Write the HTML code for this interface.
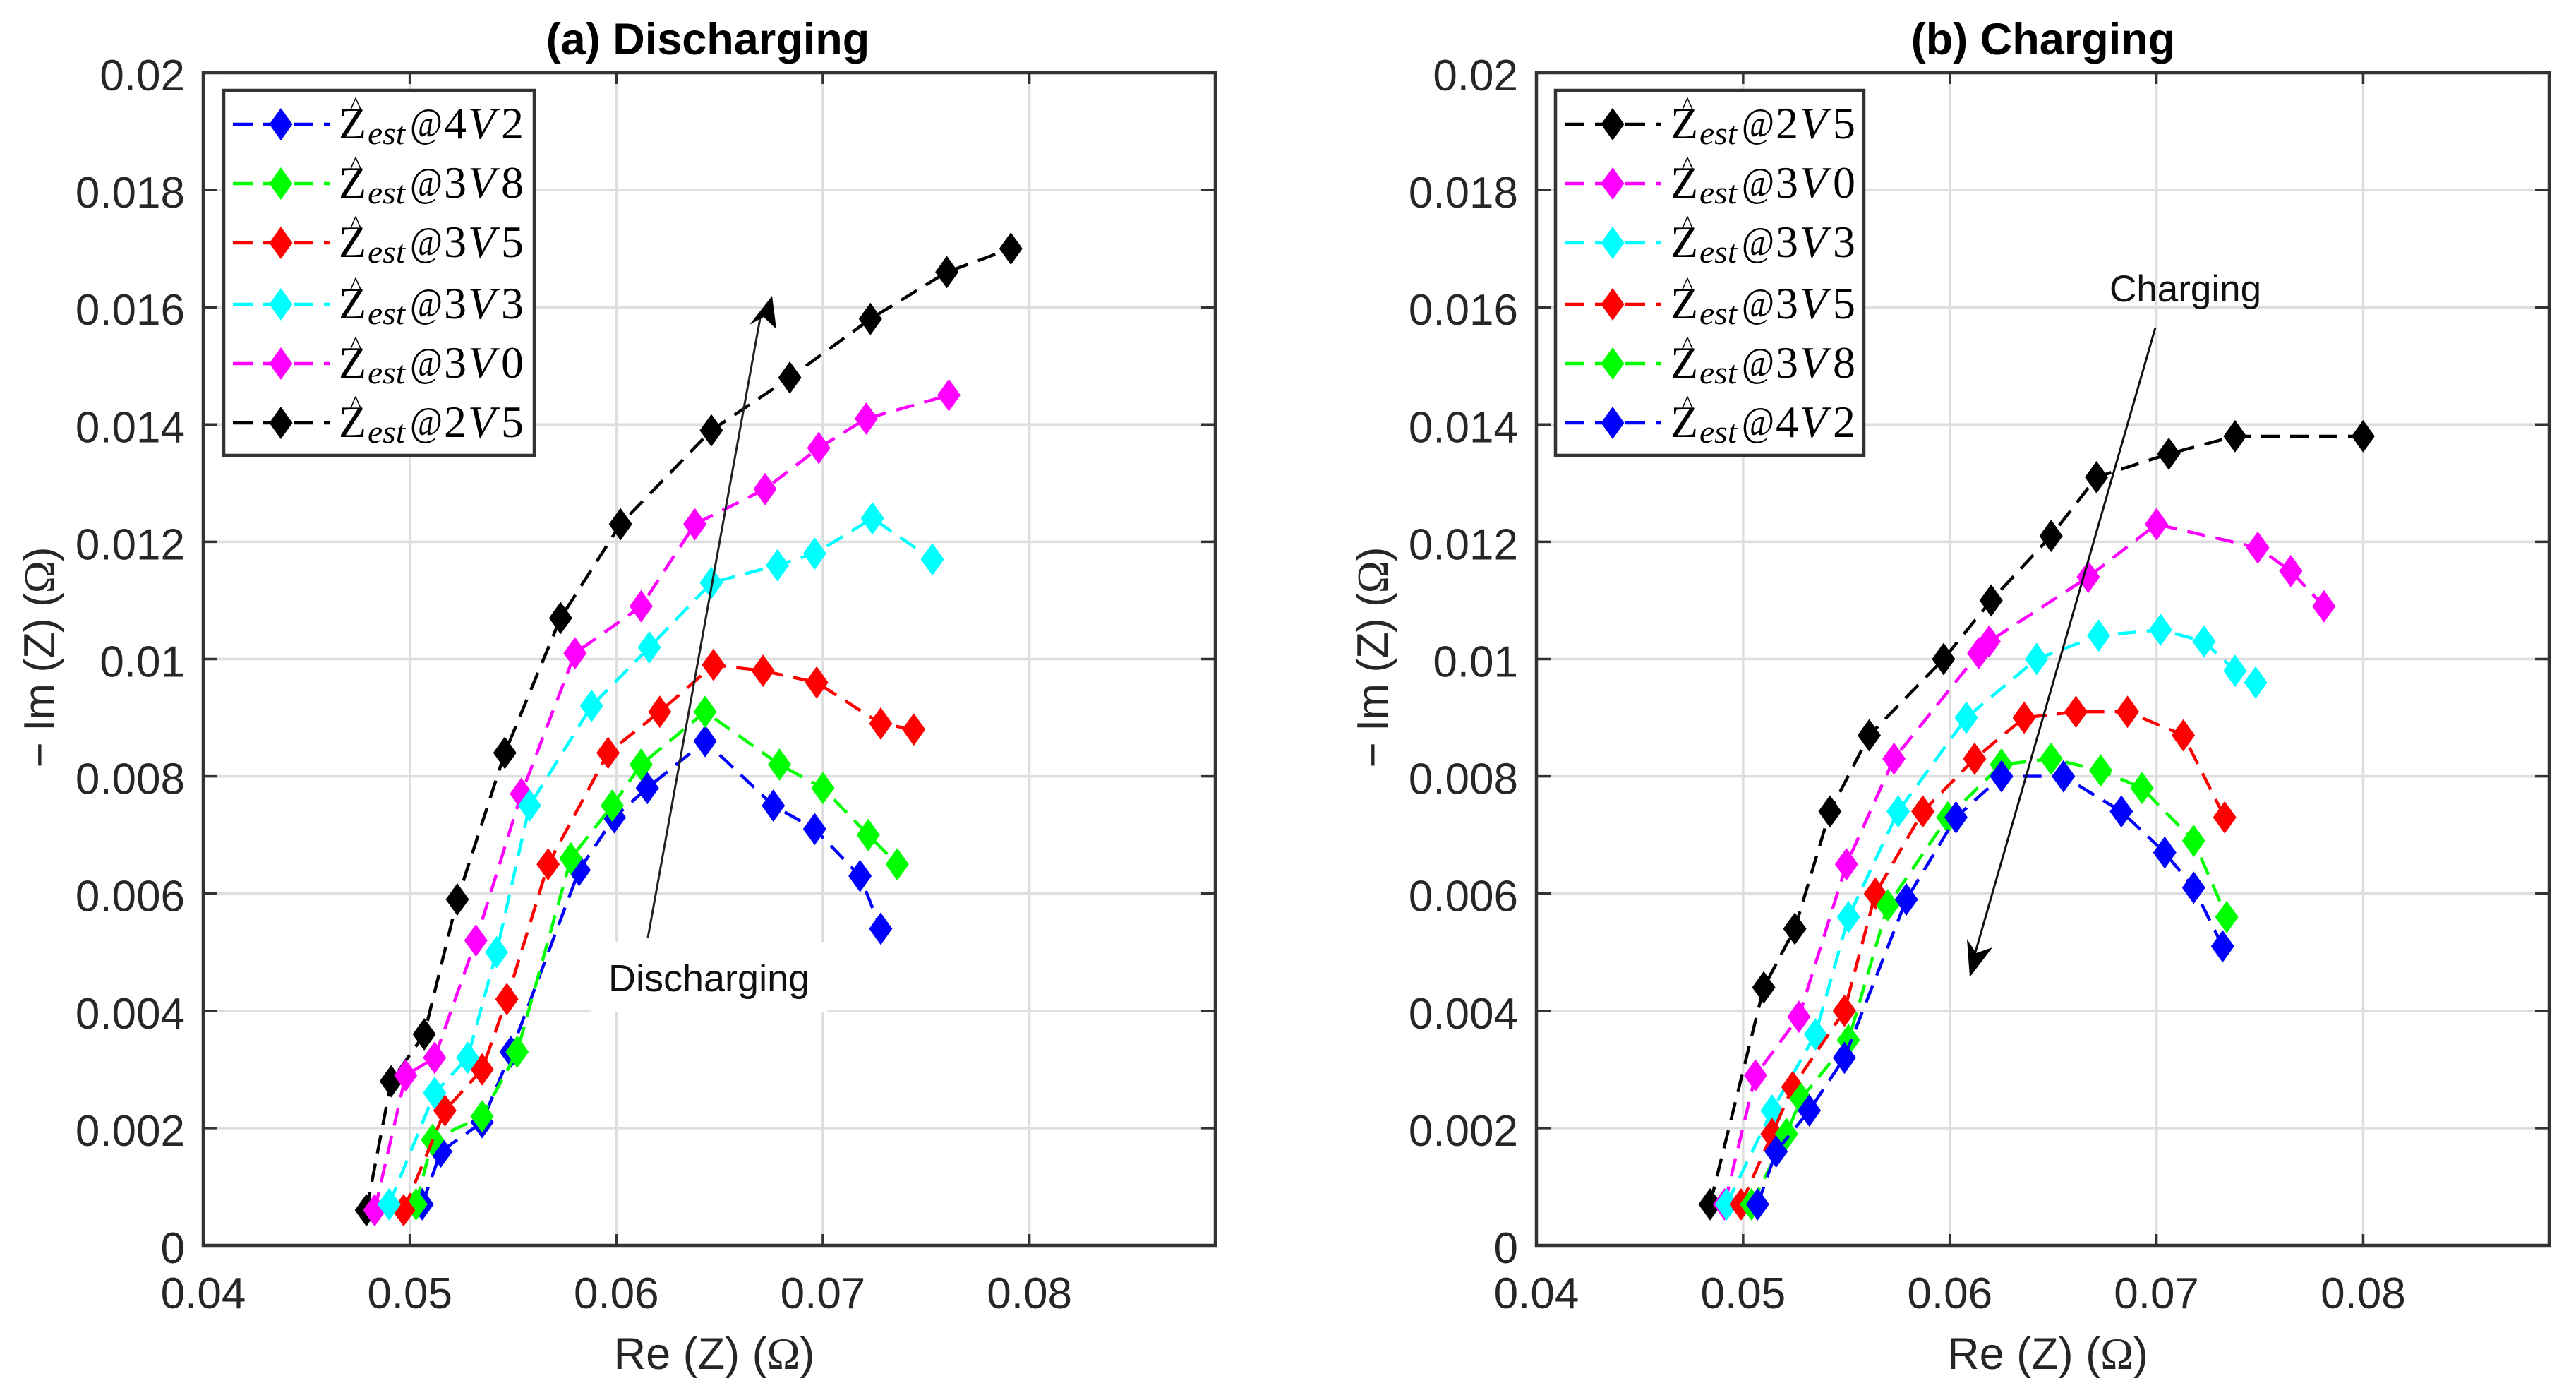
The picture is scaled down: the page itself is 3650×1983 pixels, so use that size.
<!DOCTYPE html>
<html lang="en">
<head>
<meta charset="utf-8">
<title>Impedance Nyquist plots: discharging and charging</title>
<style>
html,body{margin:0;padding:0;background:#fff;width:3650px;height:1983px;overflow:hidden}
svg{display:block}
text{font-family:"Liberation Sans",sans-serif;fill:#262626}
</style>
</head>
<body>
<svg id="figure" xmlns="http://www.w3.org/2000/svg" width="3650" height="1983" viewBox="0 0 3650 1983">
  <rect x="0" y="0" width="3650" height="1983" fill="#fff"/>
  <g id="panel-a"></g>
  <g id="panel-b"></g>
</svg>
<script>
// Axis tick values and labels
const xTicks = [0.04, 0.05, 0.06, 0.07, 0.08];
const xTickLabels = ['0.04', '0.05', '0.06', '0.07', '0.08'];
const yTicks = [0, 0.002, 0.004, 0.006, 0.008, 0.01, 0.012, 0.014, 0.016, 0.018, 0.02];
const yTickLabels = ['0', '0.002', '0.004', '0.006', '0.008', '0.01', '0.012', '0.014', '0.016', '0.018', '0.02'];
const xDomain = [0.04, 0.089];
const yDomain = [0, 0.02];

// (a) Discharging
const disRe4V2 = [0.0506, 0.0515, 0.0535, 0.0549, 0.0582, 0.0599, 0.0615, 0.0643, 0.0676, 0.0696, 0.0718, 0.0728];
const disIm4V2 = [0.0007, 0.0016, 0.0021, 0.0033, 0.0064, 0.0073, 0.0078, 0.0086, 0.0075, 0.0071, 0.0063, 0.0054];
const disRe3V8 = [0.0503, 0.0511, 0.0535, 0.0552, 0.0578, 0.0598, 0.0612, 0.0643, 0.0679, 0.07, 0.0722, 0.0736];
const disIm3V8 = [0.0007, 0.0018, 0.0022, 0.0033, 0.0066, 0.0075, 0.0082, 0.0091, 0.0082, 0.0078, 0.007, 0.0065];
const disRe3V5 = [0.0497, 0.0517, 0.0535, 0.0547, 0.0567, 0.0596, 0.0621, 0.0647, 0.0671, 0.0697, 0.0728, 0.0744];
const disIm3V5 = [0.0006, 0.0023, 0.003, 0.0042, 0.0065, 0.0084, 0.0091, 0.0099, 0.0098, 0.0096, 0.0089, 0.0088];
const disRe3V3 = [0.049, 0.0512, 0.0528, 0.0542, 0.0558, 0.0588, 0.0616, 0.0646, 0.0678, 0.0696, 0.0724, 0.0753];
const disIm3V3 = [0.0007, 0.0026, 0.0032, 0.005, 0.0075, 0.0092, 0.0102, 0.0113, 0.0116, 0.0118, 0.0124, 0.0117];
const disRe3V0 = [0.0483, 0.0498, 0.0512, 0.0532, 0.0554, 0.058, 0.0612, 0.0638, 0.0672, 0.0698, 0.0721, 0.0761];
const disIm3V0 = [0.0006, 0.0029, 0.0032, 0.0052, 0.0077, 0.0101, 0.0109, 0.0123, 0.0129, 0.0136, 0.0141, 0.0145];
const disRe2V5 = [0.0479, 0.0491, 0.0507, 0.0523, 0.0546, 0.0573, 0.0602, 0.0646, 0.0684, 0.0723, 0.076, 0.0791];
const disIm2V5 = [0.0006, 0.0028, 0.0036, 0.0059, 0.0084, 0.0107, 0.0123, 0.0139, 0.0148, 0.0158, 0.0166, 0.017];

// (b) Charging
const chgRe2V5 = [0.0484, 0.051, 0.0525, 0.0542, 0.0561, 0.0597, 0.062, 0.0649, 0.0671, 0.0706, 0.0738, 0.08];
const chgIm2V5 = [0.0007, 0.0044, 0.0054, 0.0074, 0.0087, 0.01, 0.011, 0.0121, 0.0131, 0.0135, 0.0138, 0.0138];
const chgRe3V0 = [0.0491, 0.0506, 0.0527, 0.055, 0.0573, 0.0614, 0.0619, 0.0667, 0.07, 0.0749, 0.0765, 0.0781];
const chgIm3V0 = [0.0007, 0.0029, 0.0039, 0.0065, 0.0083, 0.0101, 0.0103, 0.0114, 0.0123, 0.0119, 0.0115, 0.0109];
const chgRe3V3 = [0.0492, 0.0514, 0.0535, 0.0551, 0.0575, 0.0608, 0.0642, 0.0672, 0.0702, 0.0723, 0.0738, 0.0748];
const chgIm3V3 = [0.0007, 0.0023, 0.0036, 0.0056, 0.0074, 0.009, 0.01, 0.0104, 0.0105, 0.0103, 0.0098, 0.0096];
const chgRe3V5 = [0.0499, 0.0514, 0.0524, 0.0549, 0.0564, 0.0587, 0.0612, 0.0636, 0.0661, 0.0686, 0.0713, 0.0733];
const chgIm3V5 = [0.0007, 0.0019, 0.0027, 0.004, 0.006, 0.0074, 0.0083, 0.009, 0.0091, 0.0091, 0.0087, 0.0073];
const chgRe3V8 = [0.0504, 0.0521, 0.0528, 0.0551, 0.057, 0.0599, 0.0625, 0.0649, 0.0673, 0.0693, 0.0718, 0.0734];
const chgIm3V8 = [0.0007, 0.0019, 0.0025, 0.0035, 0.0058, 0.0073, 0.0082, 0.0083, 0.0081, 0.0078, 0.0069, 0.0056];
const chgRe4V2 = [0.0507, 0.0516, 0.0532, 0.0549, 0.0579, 0.0603, 0.0625, 0.0655, 0.0683, 0.0704, 0.0718, 0.0732];
const chgIm4V2 = [0.0007, 0.0016, 0.0023, 0.0032, 0.0059, 0.0073, 0.008, 0.008, 0.0074, 0.0067, 0.0061, 0.0051];

// Series colours and legend labels (voltage)
const color4V2 = '#0000ff';
const color3V8 = '#00ff00';
const color3V5 = '#ff0000';
const color3V3 = '#00ffff';
const color3V0 = '#ff00ff';
const color2V5 = '#000000';

const discharging = [
  { id: '4V2', re: disRe4V2, im: disIm4V2, color: color4V2 },
  { id: '3V8', re: disRe3V8, im: disIm3V8, color: color3V8 },
  { id: '3V5', re: disRe3V5, im: disIm3V5, color: color3V5 },
  { id: '2V5', re: disRe2V5, im: disIm2V5, color: color2V5 },
  { id: '3V0', re: disRe3V0, im: disIm3V0, color: color3V0 },
  { id: '3V3', re: disRe3V3, im: disIm3V3, color: color3V3 }
];
const dischargingLegend = [
  ['4V2', color4V2], ['3V8', color3V8], ['3V5', color3V5], ['3V3', color3V3], ['3V0', color3V0], ['2V5', color2V5]
];
const charging = [
  { id: '2V5', re: chgRe2V5, im: chgIm2V5, color: color2V5 },
  { id: '3V0', re: chgRe3V0, im: chgIm3V0, color: color3V0 },
  { id: '3V3', re: chgRe3V3, im: chgIm3V3, color: color3V3 },
  { id: '3V5', re: chgRe3V5, im: chgIm3V5, color: color3V5 },
  { id: '3V8', re: chgRe3V8, im: chgIm3V8, color: color3V8 },
  { id: '4V2', re: chgRe4V2, im: chgIm4V2, color: color4V2 }
];
const chargingLegend = [
  ['2V5', color2V5], ['3V0', color3V0], ['3V3', color3V3], ['3V5', color3V5], ['3V8', color3V8], ['4V2', color4V2]
];

const NS = 'http://www.w3.org/2000/svg';
function el(parent, tag, attrs, content) {
  const node = document.createElementNS(NS, tag);
  for (const k in attrs) node.setAttribute(k, attrs[k]);
  if (content !== undefined) node.textContent = content;
  parent.appendChild(node);
  return node;
}

function drawPanel(root, box, titleText, titleCx, series, legendItems, legendBox, annotate) {
  const xScale = v => box.left + (v - xDomain[0]) / (xDomain[1] - xDomain[0]) * (box.right - box.left);
  const yScale = v => box.bottom - (v - yDomain[0]) / (yDomain[1] - yDomain[0]) * (box.bottom - box.top);

  // plot background
  const bg = el(root, 'rect', { x: box.left, y: box.top, width: box.right - box.left, height: box.bottom - box.top, fill: '#fff' });
  
  

  // grid lines
  const grid = el(root, 'g', { stroke: '#dedede', 'stroke-width': 3.5 });
  
  
  xTicks.forEach(t => {
    if (t === xDomain[0]) return;
    const line = el(grid, 'line', { x1: xScale(t), x2: xScale(t), y1: box.top, y2: box.bottom });
    
    
  });
  yTicks.forEach(t => {
    if (t === yDomain[0] || t === yDomain[1]) return;
    const line = el(grid, 'line', { x1: box.left, x2: box.right, y1: yScale(t), y2: yScale(t) });
    
    
  });

  annotate.before(root);

  // series
  series.forEach(s => {
    const g = el(root, 'g', {});
    
    
    const pts = s.re.map((r, i) => xScale(r).toFixed(1) + ',' + yScale(s.im[i]).toFixed(1)).join(' ');
    const line = el(g, 'polyline', { points: pts, fill: 'none', stroke: s.color, 'stroke-width': 4.4, 'stroke-dasharray': '26 15' });
    
    
    s.re.forEach((r, i) => {
      const cx = xScale(r), cy = yScale(s.im[i]);
      const d = el(g, 'polygon', {
        points: [[cx, cy - 23], [cx + 16.5, cy], [cx, cy + 23], [cx - 16.5, cy]].map(p => p[0].toFixed(1) + ',' + p[1].toFixed(1)).join(' '),
        fill: s.color
      });
      
      
    });
  });

  annotate.after(root);

  // axes frame and ticks
  const frame = el(root, 'rect', { x: box.left, y: box.top, width: box.right - box.left, height: box.bottom - box.top, fill: 'none', stroke: '#333', 'stroke-width': 4.5 });
  
  

  const ticks = el(root, 'g', { stroke: '#333', 'stroke-width': 3.5 });
  
  
  xTicks.forEach((t, i) => {
    const x = xScale(t);
    const a = el(ticks, 'line', { x1: x, x2: x, y1: box.bottom, y2: box.bottom - 16 });
    
    
    const b = el(ticks, 'line', { x1: x, x2: x, y1: box.top, y2: box.top + 16 });
    
    
    const lab = el(root, 'text', { x: x, y: box.bottom + 89, 'text-anchor': 'middle', 'font-size': 62 }, xTickLabels[i]);
    
    
  });
  yTicks.forEach((t, i) => {
    const y = yScale(t);
    const a = el(ticks, 'line', { x1: box.left, x2: box.left + 20, y1: y, y2: y });
    
    
    const b = el(ticks, 'line', { x1: box.right, x2: box.right - 20, y1: y, y2: y });
    
    
    const lab = el(root, 'text', { x: box.left - 26, y: y + 25, 'text-anchor': 'end', 'font-size': 62 }, yTickLabels[i]);
    
    
  });

  // title
  const title = el(root, 'text', { x: titleCx, y: 77, 'text-anchor': 'middle', 'font-size': 63, 'font-weight': 'bold', style: 'fill:#000' }, titleText);
  
  

  // x label
  const cx = (box.left + box.right) / 2;
  const xl = el(root, 'text', { x: cx + 7, y: 1939, 'text-anchor': 'middle', 'font-size': 63 });
  
  
  el(xl, 'tspan', {}, 'Re (Z) (');
  el(xl, 'tspan', { style: 'font-family:"Liberation Serif",serif' }, 'Ω');
  el(xl, 'tspan', {}, ')');

  // y label
  const yx = box.left - 211;
  const yl = el(root, 'text', { x: yx, y: 931, 'text-anchor': 'middle', 'font-size': 62, transform: 'rotate(-90 ' + yx + ' 931)', textLength: 313 });
  
  
  el(yl, 'tspan', {}, '− Im (Z) (');
  el(yl, 'tspan', { style: 'font-family:"Liberation Serif",serif' }, 'Ω');
  el(yl, 'tspan', {}, ')');

  // legend
  const legend = el(root, 'g', {});
  
  
  const lb = el(legend, 'rect', { x: legendBox.x, y: 128, width: legendBox.w, height: 517, fill: '#fff', stroke: '#333', 'stroke-width': 4.5 });
  
  
  const rowY = [176, 260, 344, 431, 515, 599];
  legendItems.forEach((item, i) => {
    const y = rowY[i];
    const lx = legendBox.x + 13;
    const mx = lx + 68;
    const tx = lx + 150;
    const serif = 'font-family:"Liberation Serif",serif;fill:#000';
    const entry = el(legend, 'g', {});
    
    
    const ll = el(entry, 'line', { x1: lx, x2: lx + 137, y1: y, y2: y, stroke: item[1], 'stroke-width': 4.4, 'stroke-dasharray': '28 15' });
    
    
    const lm = el(entry, 'polygon', { points: [[mx, y - 23], [mx + 16.5, y], [mx, y + 23], [mx - 16.5, y]].join(' '), fill: item[1] });
    
    
    const label = el(entry, 'text', { 'font-size': 64, style: serif });
    
    
    const volts = item[0];
    el(label, 'tspan', { x: tx, y: y + 20 }, 'Z');
    el(entry, 'text', { x: tx + 24, y: y - 14, 'font-size': 36, 'text-anchor': 'middle', style: serif }, '^');
    el(entry, 'text', { x: tx + 41, y: y + 28, 'font-size': 46, 'font-style': 'italic', textLength: 53, lengthAdjust: 'spacingAndGlyphs', style: serif }, 'est');
    el(entry, 'text', { x: tx + 101, y: y + 18, 'font-size': 58, textLength: 46, lengthAdjust: 'spacingAndGlyphs', style: serif }, '@');
    el(entry, 'text', { x: tx + 149, y: y + 20, 'font-size': 64, style: serif }, volts[0]);
    el(entry, 'text', { x: tx + 183, y: y + 20, 'font-size': 64, 'font-style': 'italic', style: serif }, volts[1]);
    el(entry, 'text', { x: tx + 230, y: y + 20, 'font-size': 64, style: serif }, volts[2]);
  });
}

const annotateA = {
  before(root) {
    const patch = el(root, 'rect', { x: 837, y: 1334, width: 335, height: 100, fill: '#fff' });
    
    
  },
  after(root) {
    const shaft = el(root, 'line', { x1: 918, y1: 1328, x2: 1079, y2: 440, stroke: '#222', 'stroke-width': 3 });
    
    
    const head = el(root, 'polygon', { points: '1094,419 1100,466 1082,449 1062,460', fill: '#000' });
    
    
    const label = el(root, 'text', { x: 862, y: 1404, 'font-size': 54, style: 'fill:#111' }, 'Discharging');
    
    
  }
};
const annotateB = {
  before() {},
  after(root) {
    const shaft = el(root, 'line', { x1: 3054, y1: 464, x2: 2798, y2: 1352, stroke: '#111', 'stroke-width': 3 });
    
    
    const head = el(root, 'polygon', { points: '2791,1384 2787,1330 2800,1350 2823,1342', fill: '#000' });
    
    
    const label = el(root, 'text', { x: 2989, y: 427, 'font-size': 53, style: 'fill:#111' }, 'Charging');
    
    
  }
};

drawPanel(document.getElementById('panel-a'), { left: 288, right: 1722, top: 103, bottom: 1764 }, '(a) Discharging', 1003, discharging, dischargingLegend, { x: 317, w: 440 }, annotateA);
drawPanel(document.getElementById('panel-b'), { left: 2177, right: 3612, top: 103, bottom: 1764 }, '(b) Charging', 2895, charging, chargingLegend, { x: 2204, w: 437 }, annotateB);
</script>
</body>
</html>
